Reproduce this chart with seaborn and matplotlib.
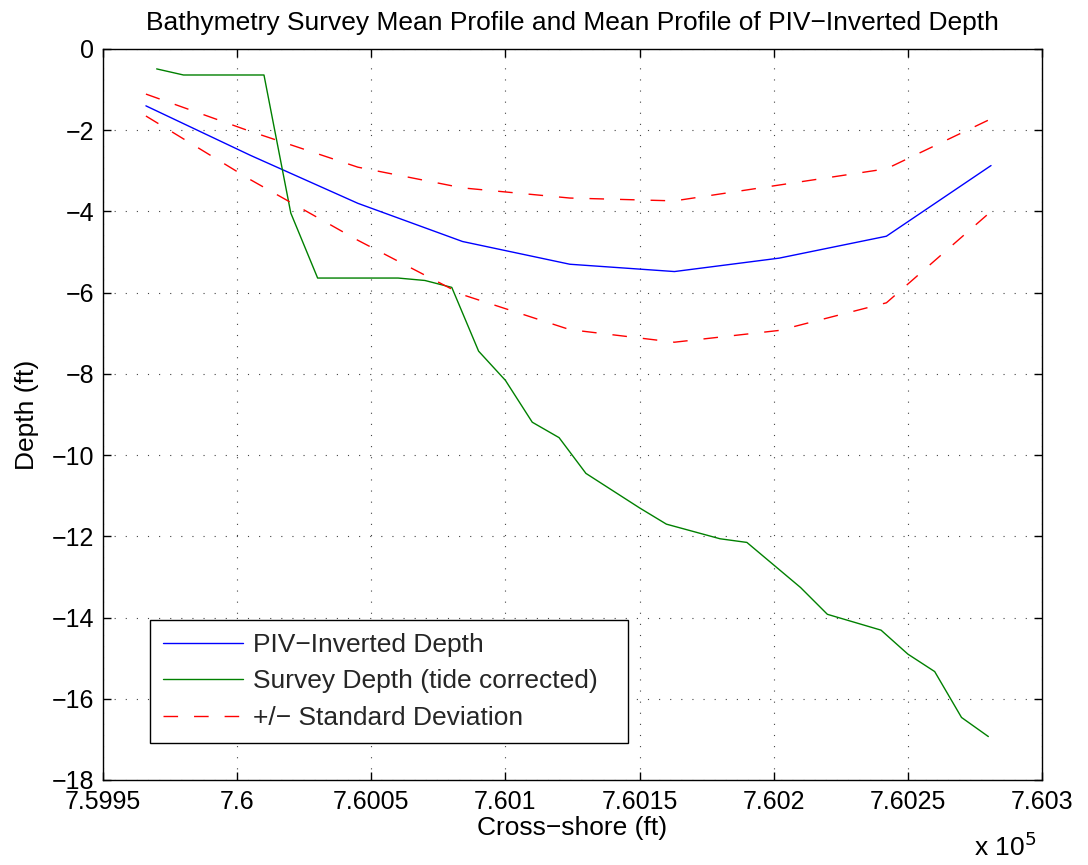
import numpy as np
import pandas as pd
import matplotlib
matplotlib.use("Agg")
import matplotlib.pyplot as plt
import seaborn as sns
from matplotlib.ticker import FuncFormatter

# ---- data ----
piv_x = [759966, 760005, 760045, 760084, 760124, 760163, 760202, 760242, 760281]
piv_depth = [-1.40, -2.62, -3.80, -4.74, -5.30, -5.48, -5.15, -4.61, -2.87]
std_upper = [-1.11, -2.03, -2.91, -3.42, -3.67, -3.74, -3.35, -2.95, -1.72]
std_lower = [-1.65, -3.22, -4.71, -6.05, -6.91, -7.22, -6.93, -6.25, -4.00]

survey_x = [759970, 759980, 760010, 760020, 760030, 760060, 760070, 760080,
            760090, 760100, 760110, 760120, 760130, 760150, 760160, 760180,
            760190, 760210, 760220, 760240, 760250, 760260, 760270, 760280]
survey_depth = [-0.49, -0.64, -0.64, -4.04, -5.64, -5.64, -5.70, -5.87,
                -7.44, -8.16, -9.19, -9.57, -10.45, -11.30, -11.70, -12.06,
                -12.15, -13.26, -13.92, -14.31, -14.90, -15.33, -16.46, -16.93]

x_ticks = [759950, 760000, 760050, 760100, 760150, 760200, 760250, 760300]
y_ticks = [0, -2, -4, -6, -8, -10, -12, -14, -16, -18]

title = "Bathymetry Survey Mean Profile and Mean Profile of PIV\u2212Inverted Depth"
xlabel = "Cross\u2212shore (ft)"
ylabel = "Depth (ft)"
labels = ["PIV\u2212Inverted Depth", "Survey Depth (tide corrected)", "+/\u2212 Standard Deviation"]

# ---- style ----
sns.set_theme(style="white")
plt.rcParams["font.family"] = ["Liberation Sans", "DejaVu Sans"]
plt.rcParams["axes.unicode_minus"] = True
FS_TICK = 18
FS = 19

fig = plt.figure(figsize=(10.88, 8.65), dpi=100)
ax = fig.add_axes([103 / 1088, 1 - 780 / 865, (1042 - 103) / 1088, (780 - 49) / 865])

piv = pd.DataFrame({"x": piv_x, "depth": piv_depth, "up": std_upper, "lo": std_lower})
sur = pd.DataFrame({"x": survey_x, "depth": survey_depth})

lw = 1.0
dash = (0, (10.5, 11.5))
sns.lineplot(data=piv, x="x", y="depth", ax=ax, color=(0, 0, 1), lw=lw,
             label=labels[0], sort=False, estimator=None)
sns.lineplot(data=sur, x="x", y="depth", ax=ax, color=(0, 0.5, 0), lw=lw,
             label=labels[1], sort=False, estimator=None)
sns.lineplot(data=piv, x="x", y="up", ax=ax, color=(1, 0, 0), lw=lw,
             linestyle=dash, label=labels[2], sort=False, estimator=None)
sns.lineplot(data=piv, x="x", y="lo", ax=ax, color=(1, 0, 0), lw=lw,
             linestyle=dash, sort=False, estimator=None)

ax.set_xlim(x_ticks[0], x_ticks[-1])
ax.set_ylim(-18, 0)
ax.set_xticks(x_ticks)
ax.set_yticks(y_ticks)
ax.xaxis.set_major_formatter(FuncFormatter(lambda v, p: f"{v / 1e5:g}"))
ax.yaxis.set_major_formatter(FuncFormatter(lambda v, p: f"{v:g}".replace("-", "\u2212")))

ax.grid(True, color="#444444", linestyle=(0, (1, 9)), lw=0.8)
ax.tick_params(axis="both", which="major", direction="in", length=5.8, width=1,
               top=True, right=True, bottom=True, left=True, labelsize=FS_TICK,
               colors="black")
ax.tick_params(axis="x", pad=7.5)
ax.tick_params(axis="y", pad=6.5)
for s in ax.spines.values():
    s.set_visible(True)
    s.set_color("black")
    s.set_linewidth(1.0)

ax.set_title(title, fontsize=FS, pad=14, color="black")
ax.set_xlabel(xlabel, fontsize=FS, labelpad=1, color="black")
ax.set_ylabel(ylabel, fontsize=FS, labelpad=9, color="black")

fig.text(1036 / 1088, 1 - 856 / 865, r"x 10$^{5}$", fontsize=FS, ha="right",
         va="baseline", color="black")

leg = ax.legend(loc="lower left", bbox_to_anchor=(0.050, 0.0505, 0.509, 0.2),
                mode="expand", fontsize=FS,
                frameon=True, fancybox=False, edgecolor="black", framealpha=1,
                handlelength=3.03, handletextpad=0.38, borderpad=0.49,
                labelspacing=0.48, borderaxespad=0)
leg.get_frame().set_linewidth(1.0)

fig.savefig("out.png", dpi=100)
